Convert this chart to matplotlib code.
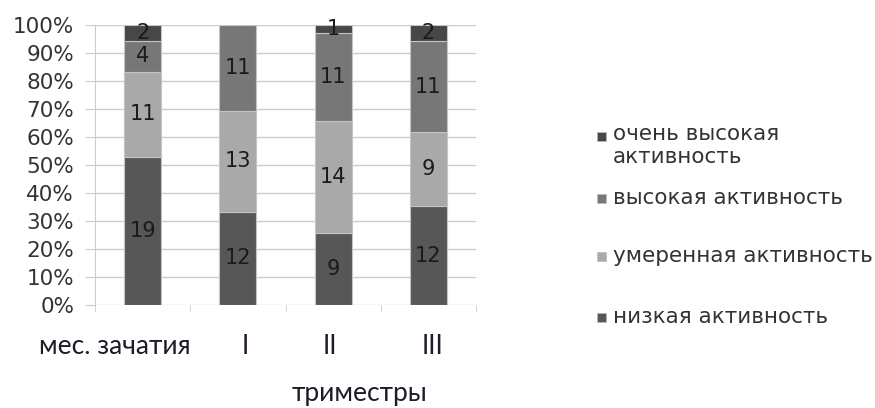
import matplotlib.pyplot as plt
from matplotlib.patches import Rectangle
from matplotlib.transforms import ScaledTranslation
import numpy as np

plt.rcParams["font.family"] = ["DejaVu Sans"]
AXIS_FONT = ["Lato", "Open Sans", "DejaVu Sans"]

categories = ["мес. зачатия", "I", "II", "III"]
series_names = [
    "низкая активность",
    "умеренная активность",
    "высокая активность",
    "очень высокая\nактивность",
]
low = [19, 12, 9, 12]
moderate = [11, 13, 14, 9]
high = [4, 11, 11, 11]
very_high = [2, 0, 1, 2]

colors = ["#575757", "#a9a9a9", "#777777", "#474747"]

counts = np.array([low, moderate, high, very_high], dtype=float)
shares = counts / counts.sum(axis=0) * 100

fig = plt.figure(figsize=(8.75, 4.08), dpi=100)
ax = fig.add_axes([95 / 875, 103 / 408, 381 / 875, 280 / 408])

x = np.arange(len(categories))
bottom = np.zeros(len(categories))
for vals, pct, col in zip(counts, shares, colors):
    ax.bar(x, pct, bottom=bottom, width=0.39, color=col,
           edgecolor="#c4c4c4", linewidth=0.8, zorder=3)
    for xi, v, p, b in zip(x, vals, pct, bottom):
        if v > 0:
            ax.text(xi, b + p / 2, f"{int(v)}", ha="center", va="center",
                    fontsize=15, color="#1a1a1a", zorder=4)
    bottom += pct

ax.set_xlim(-0.5, len(categories) - 0.5)
ax.set_ylim(0, 100)
ax.set_yticks(np.arange(0, 101, 10))
ax.set_yticklabels([f"{v}%" for v in range(0, 101, 10)], fontsize=15.5, color="#333333")
ax.yaxis.grid(True, color="#cccccc", linewidth=1.0, zorder=0)
ax.tick_params(axis="y", length=7, color="#cccccc", pad=8)

# category separators as minor ticks, labels at bar centres
ax.set_xticks(np.arange(-0.5, len(categories), 1.0), minor=True)
ax.tick_params(axis="x", which="minor", length=5, color="#cccccc", direction="out")
ax.set_xticks(x)
ax.set_xticklabels(categories, fontsize=19, family=AXIS_FONT, color="#1c1c28")
ax.tick_params(axis="x", which="major", length=0, pad=21)
shifts = [-28, 7, -3, 4]
for lab, dx in zip(ax.get_xticklabels(), shifts):
    lab.set_transform(lab.get_transform() + ScaledTranslation(dx / 100, 0, fig.dpi_scale_trans))

for side in ["top", "right", "bottom"]:
    ax.spines[side].set_visible(False)
ax.spines["left"].set_color("#cccccc")

fig.text(359 / 875, 1 - 394 / 408, "триместры", ha="center", va="center",
         fontsize=19, family=AXIS_FONT, color="#1c1c28")

# legend, top entry first; multi-line names hang from the marker row
legend_y = [136, 198, 256, 317]
for name, col, ly in zip(series_names[::-1], colors[::-1], legend_y):
    fig.patches.append(Rectangle((597 / 875, 1 - (ly + 4.5) / 408), 9 / 875, 9 / 408,
                                 transform=fig.transFigure, facecolor=col,
                                 edgecolor="#bbbbbb", linewidth=0.5))
    if "\n" in name:
        fig.text(613 / 875, 1 - (ly - 12) / 408, name, ha="left", va="top",
                 fontsize=15.5, color="#333333", linespacing=1.2)
    else:
        fig.text(613 / 875, 1 - ly / 408, name, ha="left", va="center",
                 fontsize=15.5, color="#333333")

fig.savefig("out.png", dpi=100)
